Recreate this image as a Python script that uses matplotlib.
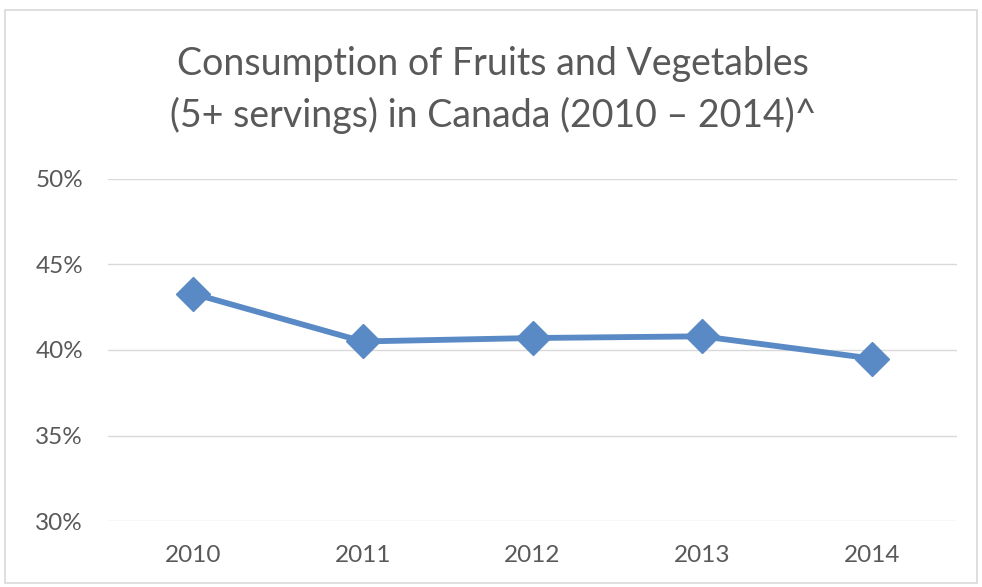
import matplotlib
matplotlib.use("Agg")
import matplotlib.pyplot as plt
from matplotlib.patches import Rectangle
from matplotlib.ticker import FuncFormatter

years = ["2010", "2011", "2012", "2013", "2014"]
values = [43.3, 40.5, 40.7, 40.8, 39.5]
y_ticks = [30, 35, 40, 45, 50]
title_lines = ["Consumption of Fruits and Vegetables",
               "(5+ servings) in Canada (2010 \u2013 2014)^"]

plt.rcParams['font.family'] = ['Lato', 'DejaVu Sans']
text_color = '#595959'
line_color = '#5A8AC6'

W, H = 982, 587
fig = plt.figure(figsize=(W / 100, H / 100), dpi=100)
fig.patch.set_facecolor('white')
# outer chart frame
fig.patches.append(Rectangle((5 / W, 4 / H), 972 / W, 573 / H, transform=fig.transFigure,
                             fill=False, edgecolor='#D9D9D9', linewidth=1.2))

ax = fig.add_axes([108 / W, 1 - 521 / H, 849 / W, (521 - 179) / H])
x = list(range(len(years)))
ax.plot(x, values, color=line_color, linewidth=4.2, marker='D', markersize=17,
        markerfacecolor=line_color, markeredgecolor=line_color, solid_joinstyle='round')
ax.set_xlim(-0.5, len(years) - 0.5)
ax.set_ylim(30, 50)
ax.set_yticks(y_ticks)
ax.yaxis.set_major_formatter(FuncFormatter(lambda v, p: f"{int(v)}%"))
ax.set_xticks(x)
ax.set_xticklabels(years)
ax.grid(axis='y', color='#D9D9D9', linewidth=1)
ax.set_axisbelow(True)
for s in ax.spines.values():
    s.set_visible(False)
ax.tick_params(length=0, labelsize=17.5, labelcolor=text_color)
ax.tick_params(axis='x', pad=17)
ax.tick_params(axis='y', pad=18)

for line, base in zip(title_lines, [75, 127]):
    fig.text(0.5 + 2 / W, 1 - base / H, line, ha='center', va='baseline', fontsize=27,
             color=text_color)

fig.savefig("out.png", dpi=100)
